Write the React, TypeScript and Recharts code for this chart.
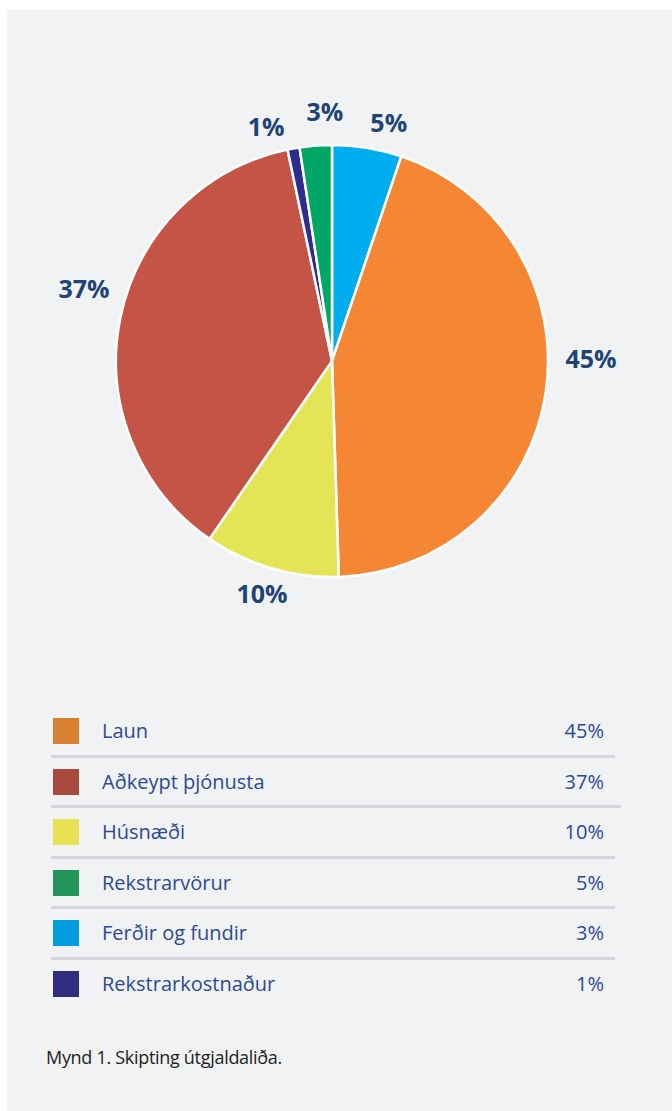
import React from "react";
import { PieChart, Pie, Cell } from "recharts";

const sliceNames = ["Ferðir og fundir", "Laun", "Húsnæði", "Aðkeypt þjónusta", "Rekstrarkostnaður", "Rekstrarvörur"];
const sliceValues = [5.2, 44.3, 10.1, 37.1, 0.9, 2.4];
const sliceLabels = ["5%", "45%", "10%", "37%", "1%", "3%"];
const sliceColors = ["#00adee", "#f58634", "#e3e556", "#c35446", "#2e2d8d", "#00a665"];

const legendNames = ["Laun", "Aðkeypt þjónusta", "Húsnæði", "Rekstrarvörur", "Ferðir og fundir", "Rekstrarkostnaður"];
const legendValues = ["45%", "37%", "10%", "5%", "3%", "1%"];
const legendColors = ["#d87f32", "#a84a3e", "#e9e153", "#22955a", "#009ee0", "#302c7e"];

const caption = "Mynd 1. Skipting útgjaldaliða.";

// label placement tweaks: angular nudge (degrees, clockwise) and radial offset beyond the pie
const labelNudge = [4.0, -9.1, 0.4, 5.1, -5.4, 2.7];
const labelOffset = [29.7, 43, 26.3, 42.5, 28, 34];

const pieData = sliceNames.map((name, i) => ({ name, value: sliceValues[i], label: sliceLabels[i] }));

const FONT = "'Open Sans', 'Noto Sans', sans-serif";

const renderLabel = (props: any) => {
  const { cx, cy, midAngle, outerRadius, index } = props;
  const theta = ((90 - midAngle + labelNudge[index]) * Math.PI) / 180;
  const r = outerRadius + labelOffset[index];
  const x = cx + r * Math.sin(theta);
  const y = cy - r * Math.cos(theta);
  return (
    <text
      x={x}
      y={y}
      textAnchor="middle"
      dominantBaseline="central"
      fill="#1d4474"
      fontFamily={FONT}
      fontWeight={700}
      fontSize={25}
    >
      {sliceLabels[index]}
    </text>
  );
};

export default function App() {
  return (
    <div
      style={{
        position: "absolute",
        left: 7,
        top: 10,
        width: 665,
        height: 1101,
        background: "#f1f2f4",
        fontFamily: FONT,
      }}
    >
      <div style={{ position: "absolute", left: 0, top: 0 }}>
        <PieChart width={665} height={680} margin={{ top: 0, right: 0, bottom: 0, left: 0 }}>
          <Pie
            data={pieData}
            dataKey="value"
            nameKey="name"
            cx={325}
            cy={351}
            outerRadius={216}
            startAngle={90}
            endAngle={-270}
            stroke="#ffffff"
            strokeWidth={2.5}
            label={renderLabel}
            labelLine={false}
            isAnimationActive={false}
          >
            {pieData.map((d, i) => (
              <Cell key={d.name} fill={sliceColors[i]} />
            ))}
          </Pie>
        </PieChart>
      </div>
      <div style={{ position: "absolute", left: 44, top: 697.25 }}>
        {legendNames.map((name, i) => (
          <div
            key={name}
            style={{
              position: "relative",
              height: 47.5,
              width: i === 1 ? 570 : 564,
              borderBottom: i < legendNames.length - 1 ? "3px solid #d4d5d8" : "3px solid transparent",
              boxSizing: "content-box",
            }}
          >
            <div
              style={{
                position: "absolute",
                left: 2,
                top: 11,
                width: 26,
                height: 26,
                background: legendColors[i],
              }}
            />
            <div
              style={{
                position: "absolute",
                left: 51,
                top: 0,
                height: 47.5,
                lineHeight: "47.5px",
                fontSize: 20,
                color: "#2d4a93",
              }}
            >
              {name}
            </div>
            <div
              style={{
                position: "absolute",
                left: 453,
                width: 100,
                textAlign: "right",
                top: 0,
                height: 47.5,
                lineHeight: "47.5px",
                fontSize: 20,
                color: "#2d4a93",
              }}
            >
              {legendValues[i]}
            </div>
          </div>
        ))}
      </div>
      <div
        style={{
          position: "absolute",
          left: 39,
          top: 1034,
          fontSize: 18,
          lineHeight: "26px",
          color: "#222222",
          letterSpacing: -0.3,
        }}
      >
        {caption}
      </div>
    </div>
  );
}
